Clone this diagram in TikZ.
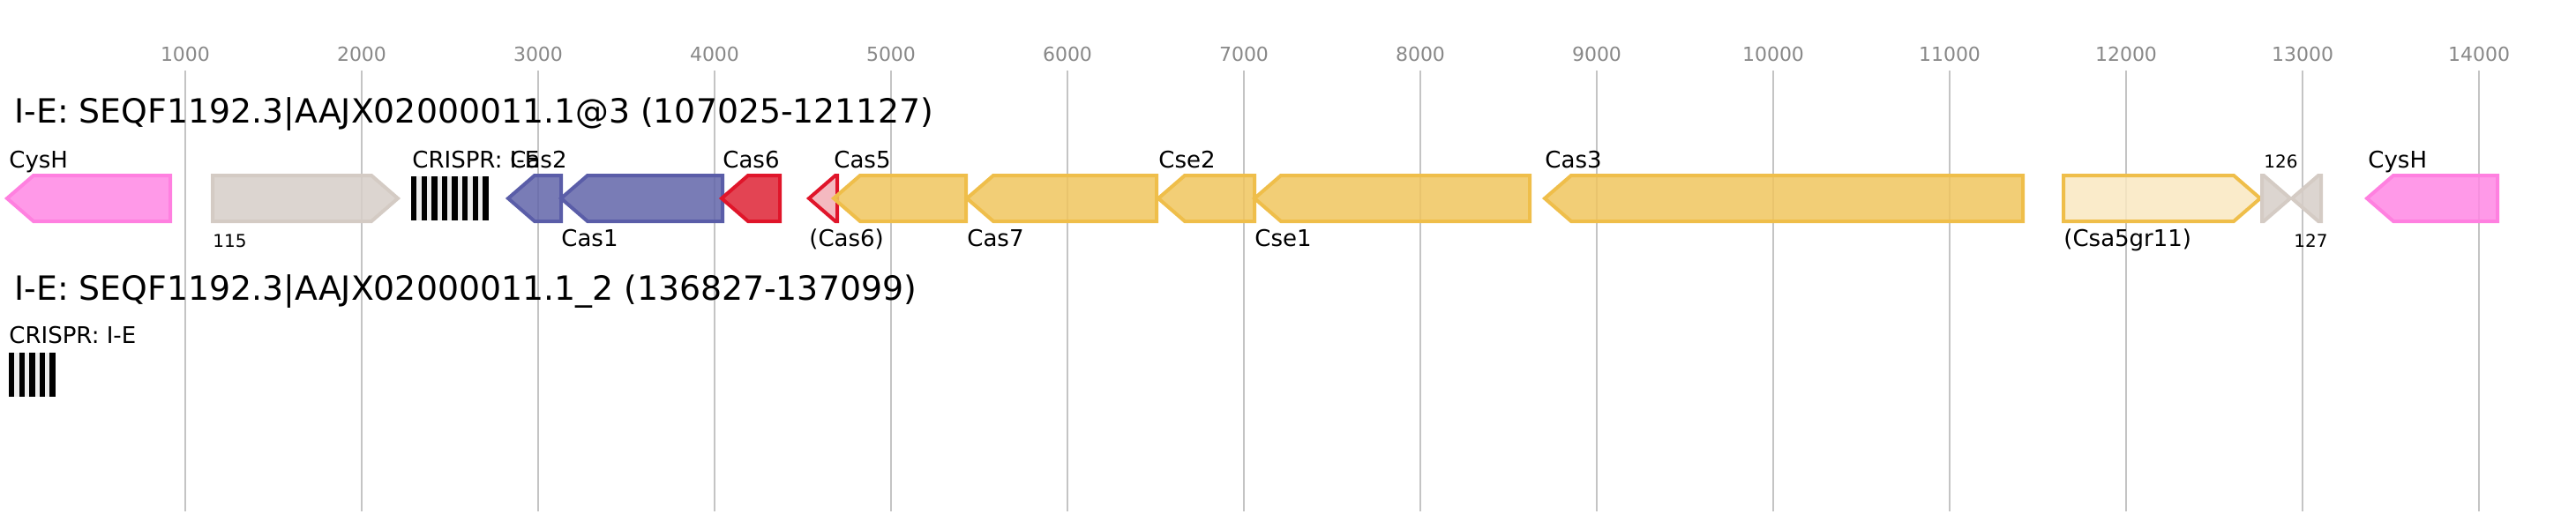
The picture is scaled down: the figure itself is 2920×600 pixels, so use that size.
\documentclass[tikz,border=0pt]{standalone}
\usepackage{fontspec}
\setmainfont{DejaVu Sans}
\definecolor{gridline}{HTML}{C4C4C4}
\definecolor{ticktext}{HTML}{888888}
\definecolor{pinkfill}{HTML}{FF87E4}
\definecolor{pinkline}{HTML}{FF80E0}
\definecolor{beigefill}{HTML}{D6CEC8}
\definecolor{beigeline}{HTML}{D4CBC4}
\definecolor{bluefill}{HTML}{6265A9}
\definecolor{blueline}{HTML}{5A5DA8}
\definecolor{redfill}{HTML}{DE2335}
\definecolor{redline}{HTML}{E0152A}
\definecolor{palered}{HTML}{F2ADB5}
\definecolor{goldfill}{HTML}{F0C55E}
\definecolor{goldline}{HTML}{EFBE4A}
\definecolor{palegold}{HTML}{F9E8C1}
\definecolor{spacer}{HTML}{EEEEEE}
\tikzset{
  GridStyle/.style = {draw = gridline, line width = 1pt},
  TickStyle/.style = {text = ticktext, inner sep = 0pt, anchor = base,
                      font = \fontsize{11}{13}\selectfont},
  TitleStyle/.style = {inner sep = 0pt, anchor = base west,
                       font = \fontsize{18.9}{22}\selectfont},
  LabelStyle/.style = {inner sep = 0pt, anchor = base west,
                       font = \fontsize{13}{15}\selectfont},
  SmallStyle/.style = {inner sep = 0pt, anchor = base west,
                       font = \fontsize{10}{12}\selectfont},
  GeneStyle/.style = {line width = 2pt, fill opacity = 0.85}
}
\newcommand{\GeneLeft}[4]{%
  \pgfmathsetmacro\headx{min(#1+30,#2)}
  \draw[GeneStyle, fill = #3, draw = #4] (#1,225) -- (\headx,199) -- (#2,199)
    -- (#2,251) -- (\headx,251) -- cycle;}
\newcommand{\GeneRight}[4]{%
  \pgfmathsetmacro\headx{max(#2-30,#1)}
  \draw[GeneStyle, fill = #3, draw = #4] (#1,199) -- (\headx,199) -- (#2,225)
    -- (\headx,251) -- (#1,251) -- cycle;}
\newcommand{\CrisprArray}[4]{%
  \fill[spacer] (#1,#2) rectangle ++(#3*11.6-5.2,#4);
  \foreach \k in {1,...,#3}
    \fill[black] ({#1+(\k-1)*11.6},#2) rectangle ++(6.4,#4);}

\begin{document}
\begin{tikzpicture}[x=0.5pt, y=-0.5pt]
  \useasboundingbox (0,0) rectangle (2920,600);

  \foreach \t in {1,...,14} {
    \draw[GridStyle] ({10+200*\t},80) -- ({10+200*\t},580);
    \node[TickStyle] (tick\t) at ({10+200*\t},69) {\t000};
  }

  \node[TitleStyle] (title1) at (16,139) {I-E: SEQF1192.3|AAJX02000011.1@3 (107025-121127)};

  \GeneLeft{8}{193}{pinkfill}{pinkline}
  \GeneRight{241}{451}{beigefill}{beigeline}
  \CrisprArray{466}{200}{8}{50}
  \GeneLeft{576}{636}{bluefill}{blueline}
  \GeneLeft{636}{819}{bluefill}{blueline}
  \GeneLeft{818}{884}{redfill}{redline}
  \GeneLeft{917}{949}{palered}{redline}
  \GeneLeft{945}{1095}{goldfill}{goldline}
  \GeneLeft{1096}{1311}{goldfill}{goldline}
  \GeneLeft{1313}{1422}{goldfill}{goldline}
  \GeneLeft{1422}{1734}{goldfill}{goldline}
  \GeneLeft{1751}{2293}{goldfill}{goldline}
  \GeneRight{2339}{2562}{palegold}{goldline}
  \GeneRight{2564}{2596}{beigefill}{beigeline}
  \GeneLeft{2598}{2631}{beigefill}{beigeline}
  \GeneLeft{2683}{2831}{pinkfill}{pinkline}

  \node[LabelStyle] (cysh1) at (10,190) {CysH};
  \node[SmallStyle] (g115) at (241,280) {115};
  \node[LabelStyle] (crispr1) at (467,190) {CRISPR: I-E};
  \node[LabelStyle] (cas2) at (578,190) {Cas2};
  \node[LabelStyle] (cas1) at (636,279) {Cas1};
  \node[LabelStyle] (cas6) at (819,190) {Cas6};
  \node[LabelStyle] (cas6b) at (917,279) {(Cas6)};
  \node[LabelStyle] (cas5) at (945,190) {Cas5};
  \node[LabelStyle] (cas7) at (1096,279) {Cas7};
  \node[LabelStyle] (cse2) at (1313,190) {Cse2};
  \node[LabelStyle] (cse1) at (1422,279) {Cse1};
  \node[LabelStyle] (cas3) at (1751,190) {Cas3};
  \node[LabelStyle] (csa5) at (2339,279) {(Csa5gr11)};
  \node[SmallStyle] (g126) at (2566,190) {126};
  \node[SmallStyle] (g127) at (2600,280) {127};
  \node[LabelStyle] (cysh2) at (2684,190) {CysH};

  \node[TitleStyle] (title2) at (16,340) {I-E: SEQF1192.3|AAJX02000011.1\_2 (136827-137099)};
  \node[LabelStyle] (crispr2) at (10,389) {CRISPR: I-E};
  \CrisprArray{10}{400}{5}{50}

\end{tikzpicture}
\end{document}
